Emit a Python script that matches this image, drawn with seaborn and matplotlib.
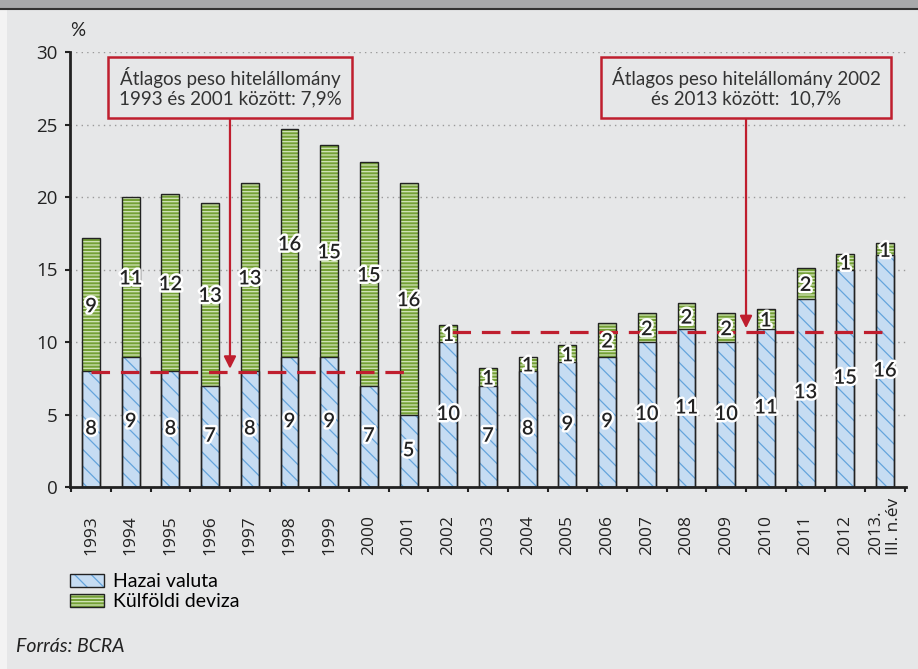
import numpy as np
import pandas as pd
import matplotlib
matplotlib.use('Agg')
import matplotlib.pyplot as plt
import matplotlib.patheffects as pe
from matplotlib.patches import Patch, Rectangle
from matplotlib.lines import Line2D
import seaborn as sns

# adatok (leolvasva az ábráról)
evek = ['1993', '1994', '1995', '1996', '1997', '1998', '1999', '2000', '2001',
        '2002', '2003', '2004', '2005', '2006', '2007', '2008', '2009', '2010',
        '2011', '2012', '2013.\nIII. n.év']
hazai = [8, 9, 8, 7, 8, 9, 9, 7, 5, 10, 7, 8, 8.6, 9, 10, 10.9, 10, 10.9, 13, 15, 16]
kulfoldi = [9.15, 11, 12.2, 12.6, 13, 15.7, 14.6, 15.4, 16, 1.2, 1.2, 1.0, 1.2,
            2.3, 2, 1.8, 2, 1.4, 2.1, 1.05, 0.8]
atlag_1 = 7.9    # 1993-2001
atlag_2 = 10.7   # 2002-2013
szoveg_1 = 'Átlagos peso hitelállomány\n1993 és 2001 között: 7,9%'
szoveg_2 = 'Átlagos peso hitelállomány 2002\nés 2013 között:  10,7%'

bg = '#e6e7e8'
kek = '#c6dcf2'
kek_vonal = '#64a4dc'
zold = '#74a036'
zold_vonal = '#d3e5b9'
piros = '#bf1e2e'
fekete = '#222222'

plt.rcParams['font.family'] = ['Lato', 'DejaVu Sans']
plt.rcParams['hatch.linewidth'] = 0.9

df = pd.DataFrame({'ev': evek, 'hazai': hazai, 'kulfoldi': kulfoldi})
df['osszes'] = df['hazai'] + df['kulfoldi']

fig = plt.figure(figsize=(9.18, 6.69), dpi=100, facecolor=bg)
# fejléc sáv
fig.patches.append(Rectangle((0, 1 - 8 / 669), 1, 8 / 669, transform=fig.transFigure,
                             facecolor='#a8a9ab', edgecolor='none', zorder=0))
fig.lines.append(Line2D([0, 1], [1 - 8.5 / 669] * 2, transform=fig.transFigure,
                        color='#333333', lw=1.5))
fig.patches.append(Rectangle((0, 0), 7 / 918, 1 - 9 / 669, transform=fig.transFigure,
                             facecolor='#f3f3f3', edgecolor='none', zorder=0))

ax = fig.add_axes([70 / 918, (669 - 487) / 669, 836 / 918, 435 / 669])
ax.set_facecolor(bg)

# halmozott oszlopok: teljes (külföldi) alul, hazai rá
sns.barplot(data=df, x='ev', y='osszes', color=zold, width=0.45, errorbar=None, ax=ax)
sns.barplot(data=df, x='ev', y='hazai', color=kek, width=0.45, errorbar=None, ax=ax)
n = len(df)
for p in ax.patches[:n]:
    p.set_facecolor(zold)
    p.set_edgecolor(zold_vonal)
    p.set_hatch('-----')
    p.set_linewidth(0)
for p in ax.patches[n:2 * n]:
    p.set_facecolor(kek)
    p.set_edgecolor(kek_vonal)
    p.set_hatch('\\\\')
    p.set_linewidth(0)

# körvonalak
sns.barplot(data=df, x='ev', y='osszes', color='none', width=0.45, errorbar=None, ax=ax)
sns.barplot(data=df, x='ev', y='hazai', color='none', width=0.45, errorbar=None, ax=ax)
for p in ax.patches[2 * n:]:
    p.set_facecolor('none')
    p.set_edgecolor(fekete)
    p.set_linewidth(1.0)

# átlag vonalak
x = np.arange(n)
ax.hlines(atlag_1, x[0], x[8], colors=piros, lw=2.3, linestyles=(0, (5.8, 3.4)), zorder=4)
ax.hlines(atlag_2, x[9] + 0.1, x[-1], colors=piros, lw=2.3, linestyles=(0, (5.8, 3.4)), zorder=4)

# értékcímkék
halo = [pe.withStroke(linewidth=3.5, foreground='white')]
for i in range(n):
    ax.text(x[i], hazai[i] / 2, f'{hazai[i]:.0f}', ha='center', va='center',
            fontsize=14.5, fontweight='semibold', color=fekete, path_effects=halo, zorder=6)
    ax.text(x[i], hazai[i] + kulfoldi[i] / 2 - 0.15, f'{kulfoldi[i]:.0f}', ha='center',
            va='center', fontsize=14.5, fontweight='semibold', color=fekete,
            path_effects=halo, zorder=6)

# szövegdobozok és nyilak
for xc, yv, txt in [(3.5, atlag_1, szoveg_1), (16.5, atlag_2, szoveg_2)]:
    ax.annotate('', xy=(xc, yv + 0.25), xytext=(xc, 26.5),
                arrowprops=dict(arrowstyle='-|>', color=piros, lw=1.6,
                                mutation_scale=18, shrinkA=0, shrinkB=0), zorder=5)
    ax.text(xc, 27.55, txt, ha='center', va='center', fontsize=13.5, color='#333333',
            linespacing=1.15, zorder=7,
            bbox=dict(boxstyle='square,pad=0.55', facecolor=bg, edgecolor=piros, lw=1.8))

# tengelyek
ax.set_xlim(-0.53, n - 0.47)
ax.set_ylim(0, 30)
ax.set_yticks(np.arange(0, 31, 5))
ax.yaxis.grid(True, color='#9a9a9a', lw=1.0, linestyle=(0, (1, 3)))
ax.xaxis.grid(False)
ax.set_axisbelow(True)
ax.set_xlabel('')
ax.set_ylabel('')
for s in ['top', 'right']:
    ax.spines[s].set_visible(False)
for s in ['left', 'bottom']:
    ax.spines[s].set_color(fekete)
    ax.spines[s].set_linewidth(2.0)

ax.tick_params(axis='y', direction='out', length=3.6, width=1.5, color=fekete,
               labelsize=13.5, pad=5.5, labelcolor=fekete)
for lab in ax.get_yticklabels():
    lab.set_fontfamily(['Open Sans', 'DejaVu Sans'])
ax.set_xticks(x)
ax.set_xticklabels(evek, rotation=90, fontsize=12.5, color=fekete,
                   fontfamily=['Open Sans', 'DejaVu Sans'])
ax.set_xticks(np.arange(-0.5, n), minor=True)
ax.tick_params(axis='x', which='major', length=0, pad=49)
ax.tick_params(axis='x', which='minor', direction='out', length=3.6, width=1.5, color=fekete)
for lab in ax.get_xticklabels():
    lab.set_verticalalignment('bottom')
    lab.set_multialignment('left')

ax.text(0.0096, 1.03, '%', transform=ax.transAxes, ha='center', va='bottom',
        fontsize=13.5, color=fekete)

# jelmagyarázat
h_kek = (Patch(facecolor=kek, edgecolor=kek_vonal, hatch='\\\\', lw=0),
         Patch(facecolor='none', edgecolor=fekete, lw=1.0))
h_zold = (Patch(facecolor=zold, edgecolor=zold_vonal, hatch='-----', lw=0),
          Patch(facecolor='none', edgecolor=fekete, lw=1.0))
fig.legend([h_kek, h_zold], ['Hazai valuta', 'Külföldi deviza'], loc='upper left',
           bbox_to_anchor=(70 / 918, 1 - 573 / 669), frameon=False, fontsize=14,
           borderpad=0, borderaxespad=0, handlelength=1.75, handleheight=0.65,
           handletextpad=0.45, labelspacing=0.15)

fig.text(16 / 918, 1 - 647 / 669, 'Forrás: BCRA', style='italic', fontsize=14,
         va='center', ha='left', color=fekete)

fig.savefig('out.png', dpi=100, facecolor=bg)
